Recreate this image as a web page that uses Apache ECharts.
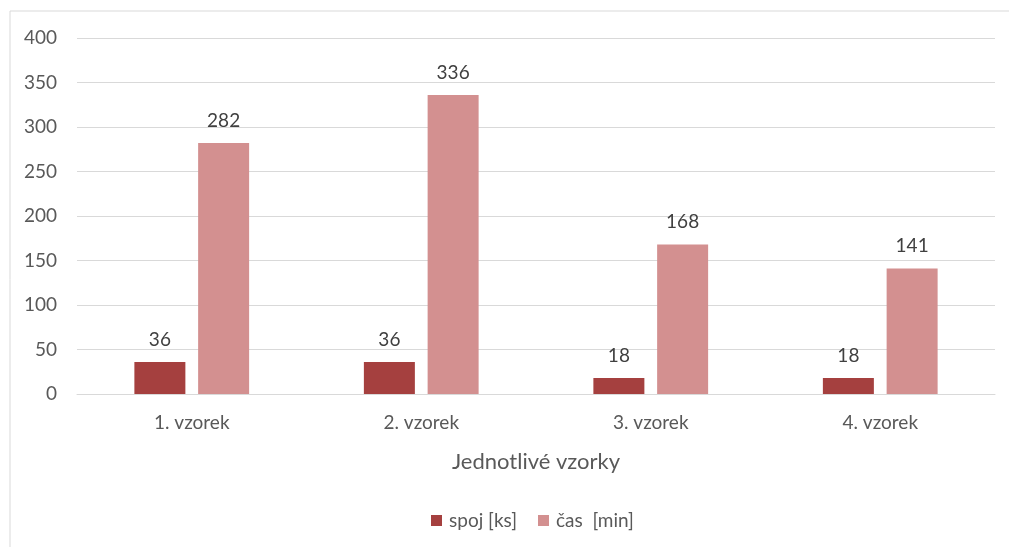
<!DOCTYPE html>
<html><head><meta charset="utf-8">
<script src="https://cdn.jsdelivr.net/npm/echarts@6/dist/echarts.min.js"></script>
<style>html,body{margin:0;padding:0;background:#fff}#c{width:1009px;height:547px}</style>
</head><body><div id="c"></div>
<script>
const categories = ['1. vzorek', '2. vzorek', '3. vzorek', '4. vzorek'];
const spoj = [36, 36, 18, 18];
const cas = [282, 336, 168, 141];
const seriesNames = ['spoj [ks]', 'čas  [min]'];
const yTicks = { min: 0, max: 400, interval: 50 };

const chart = echarts.init(document.getElementById('c'));
const font = 'Lato, Open Sans, sans-serif';
chart.setOption({
  animation: false,
  textStyle: { fontFamily: font },
  graphic: [{ type: 'rect', shape: { x: 10, y: 11, width: 1100, height: 700 }, style: { fill: 'none', stroke: '#d9d9d9', lineWidth: 1 }, silent: true }],
  grid: { left: 77, right: 14, top: 38, bottom: 153 },
  legend: {
    bottom: 12, left: 426, itemWidth: 11, itemHeight: 11, itemGap: 21,
    icon: 'rect',
    textStyle: { color: '#595959', fontSize: 19, fontFamily: font, padding: [0, 0, 0, 2] },
    data: seriesNames
  },
  xAxis: {
    type: 'category', data: categories,
    name: 'Jednotlivé vzorky', nameLocation: 'middle', nameGap: 57,
    nameTextStyle: { color: '#595959', fontSize: 22, fontFamily: font },
    axisLine: { lineStyle: { color: '#d9d9d9' } }, axisTick: { show: false },
    axisLabel: { color: '#595959', fontSize: 19, margin: 19, fontFamily: font }
  },
  yAxis: {
    type: 'value', min: yTicks.min, max: yTicks.max, interval: yTicks.interval,
    axisLine: { show: false }, axisTick: { show: false },
    splitLine: { lineStyle: { color: '#d9d9d9' } },
    axisLabel: { color: '#595959', fontSize: 19, margin: 20, fontFamily: font }
  },
  series: [
    { name: seriesNames[0], type: 'bar', data: spoj, barWidth: 51, barGap: '25%',
      itemStyle: { color: '#A5403F' },
      label: { show: true, position: 'top', distance: 13, color: '#404040', fontSize: 19, fontFamily: font } },
    { name: seriesNames[1], type: 'bar', data: cas, barWidth: 51,
      itemStyle: { color: '#D39090' },
      label: { show: true, position: 'top', distance: 13, color: '#404040', fontSize: 19, fontFamily: font } }
  ]
});
</script></body></html>
